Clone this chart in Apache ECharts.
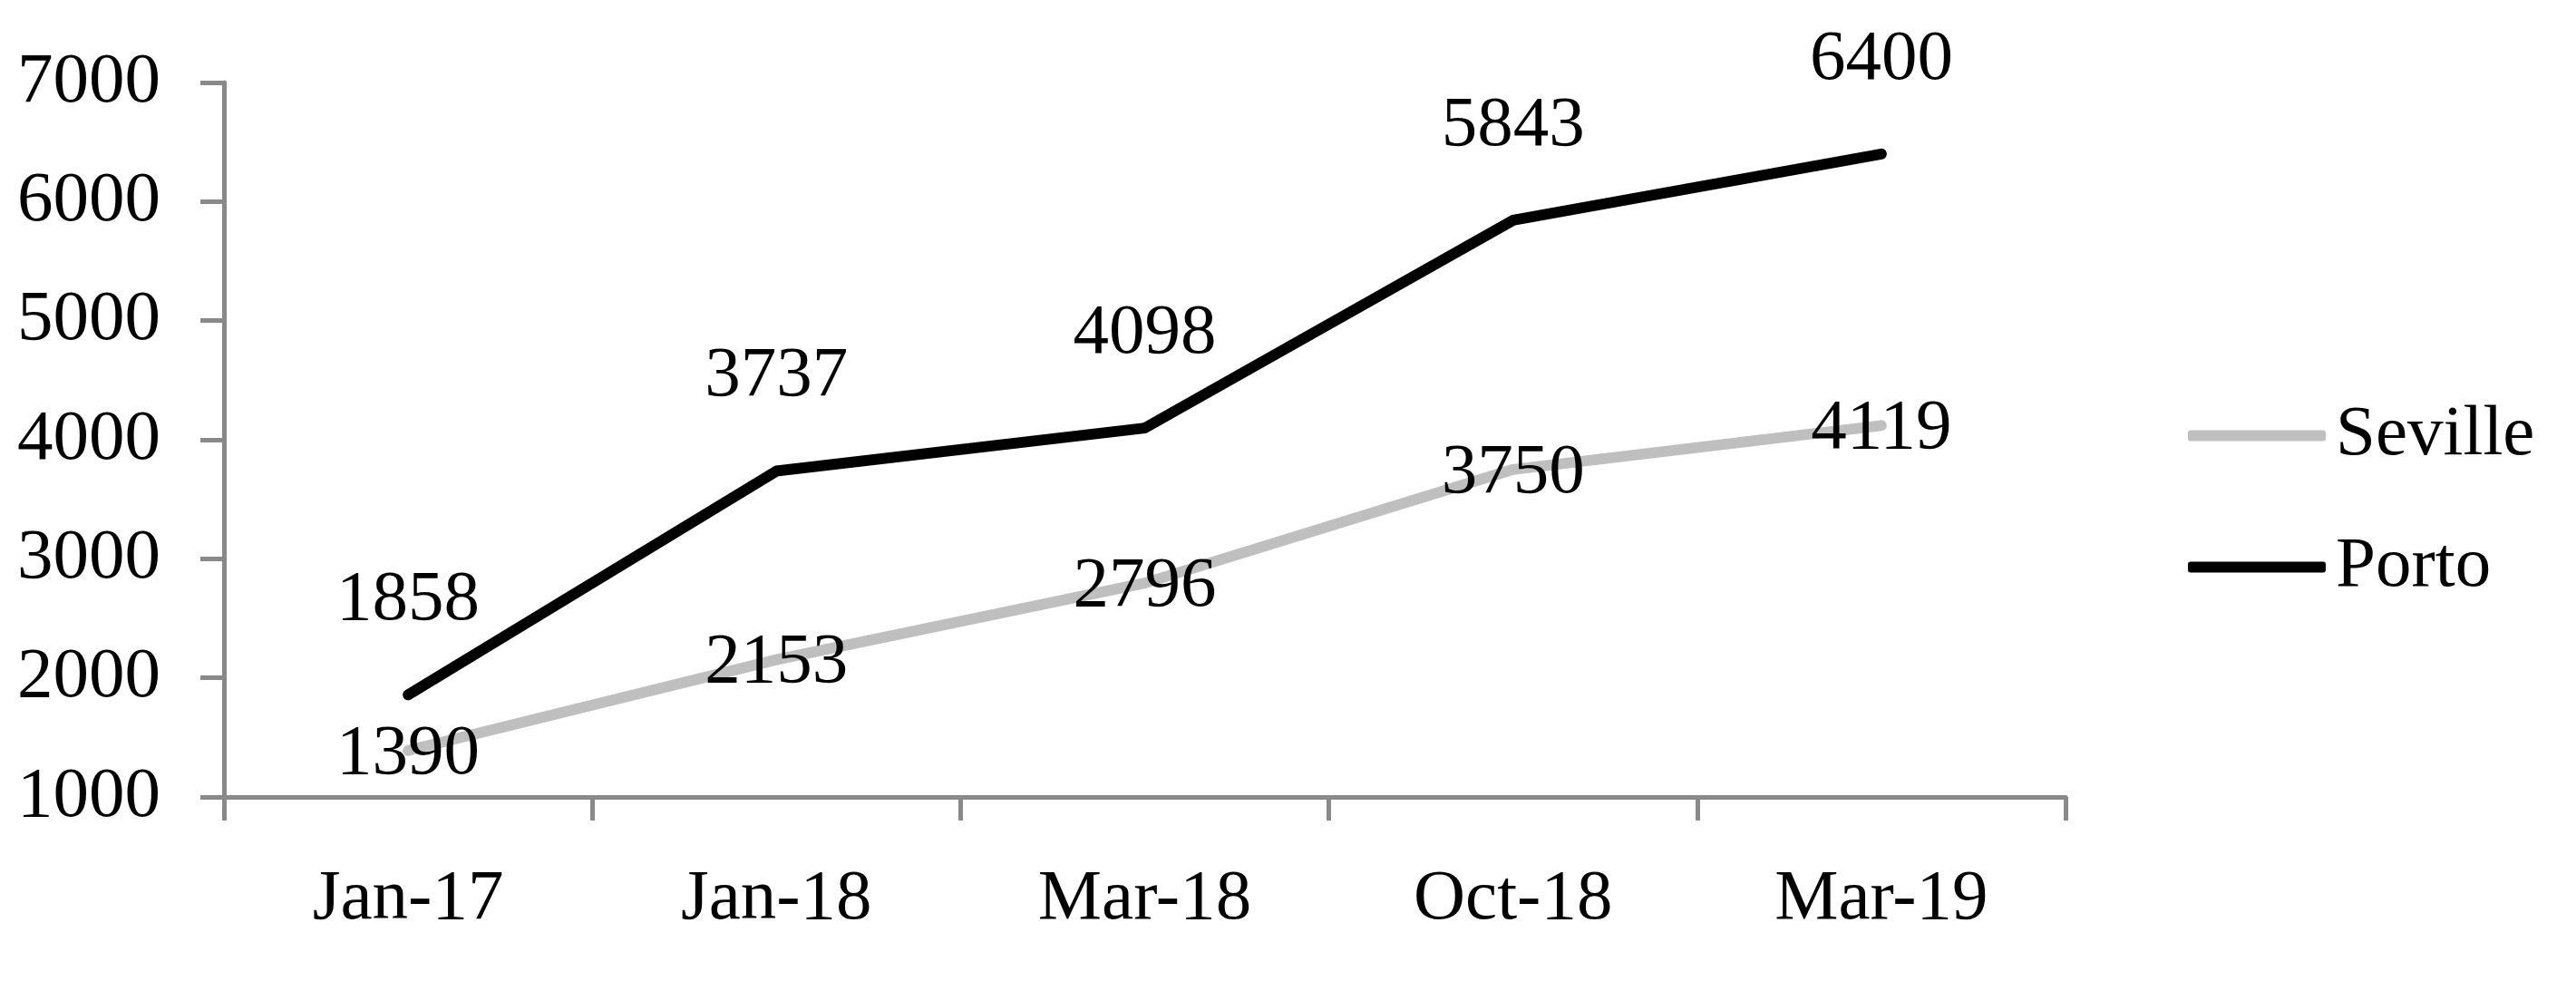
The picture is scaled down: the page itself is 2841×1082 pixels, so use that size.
<!DOCTYPE html>
<html>
<head>
<meta charset="utf-8">
<script src="https://cdn.jsdelivr.net/npm/echarts@6/dist/echarts.min.js"></script>
<style>
html, body { margin: 0; padding: 0; background: #fff; }
#chart { width: 2841px; height: 1082px; }
</style>
</head>
<body>
<div id="chart"></div>
<script>
// categories and values
var months = ['Jan-17', 'Jan-18', 'Mar-18', 'Oct-18', 'Mar-19'];
var seville = [1390, 2153, 2796, 3750, 4119];
var porto = [1858, 3737, 4098, 5843, 6400];

var FONT = 'Liberation Serif';
var FS = 79;
var AXIS_GREY = '#898989';

var myChart = echarts.init(document.getElementById('chart'));

var option = {
    animation: false,
    backgroundColor: '#fff',
    textStyle: { fontFamily: FONT, color: '#000' },
    grid: {
        left: 247,
        right: 563,
        top: 91,
        bottom: 203
    },
    legend: {
        orient: 'vertical',
        left: 2408,
        top: 436,
        itemWidth: 152,
        itemHeight: 12,
        itemGap: 66,
        icon: 'roundRect',
        textStyle: { fontFamily: FONT, fontSize: FS, color: '#000', padding: [0, 0, 0, 6] },
        data: ['Seville', 'Porto']
    },
    xAxis: {
        type: 'category',
        data: months,
        boundaryGap: true,
        axisLine: { lineStyle: { color: AXIS_GREY, width: 5 } },
        axisTick: { show: true, length: 26, lineStyle: { color: AXIS_GREY, width: 5 } },
        axisLabel: { fontFamily: FONT, fontSize: FS, color: '#000', margin: 74 },
        splitLine: { show: false }
    },
    yAxis: {
        type: 'value',
        min: 1000,
        max: 7000,
        interval: 1000,
        axisLine: { show: true, lineStyle: { color: AXIS_GREY, width: 5 } },
        axisTick: { show: true, length: 26, lineStyle: { color: AXIS_GREY, width: 5 } },
        axisLabel: {
            fontFamily: FONT, fontSize: FS, color: '#000', margin: 70,
            formatter: function (v) { return String(v); }
        },
        splitLine: { show: false }
    },
    series: [
        {
            name: 'Seville',
            type: 'line',
            data: seville,
            symbol: 'circle',
            symbolSize: 1,
            showSymbol: true,
            itemStyle: { color: '#bfbfbf' },
            color: '#bfbfbf',
            lineStyle: { color: '#bfbfbf', width: 12, cap: 'round', join: 'round' },
            label: {
                show: true,
                position: 'inside',
                offset: [0, 4],
                fontFamily: FONT,
                fontSize: FS,
                color: '#000'
            },
            z: 2
        },
        {
            name: 'Porto',
            type: 'line',
            data: porto,
            symbol: 'circle',
            symbolSize: 1,
            showSymbol: true,
            itemStyle: { color: '#000' },
            color: '#000',
            lineStyle: { color: '#000', width: 12, cap: 'round', join: 'round' },
            label: {
                show: true,
                position: 'inside',
                offset: [0, -104],
                fontFamily: FONT,
                fontSize: FS,
                color: '#000'
            },
            z: 3
        }
    ]
};

myChart.setOption(option);
</script>
</body>
</html>
